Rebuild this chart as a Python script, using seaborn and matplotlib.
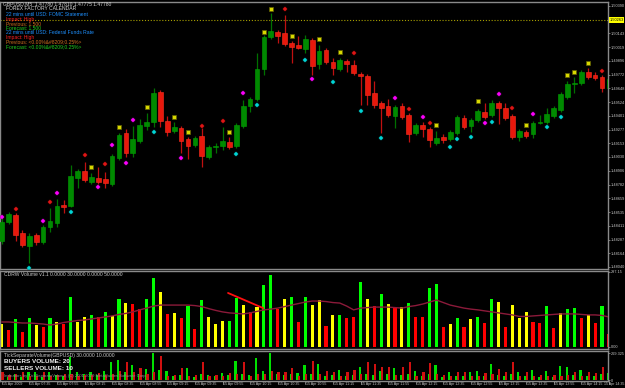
import numpy as np
import pandas as pd
import matplotlib
matplotlib.use("Agg")
import matplotlib.pyplot as plt
import seaborn as sns

sns.set_style("dark")
plt.rcParams['font.family'] = ['Liberation Sans', 'DejaVu Sans']
plt.rcParams['patch.force_edgecolor'] = False

# ---------------- data ----------------
open_ = [1.48274, 1.48445, 1.48508, 1.48346, 1.48229, 1.48328, 1.48265, 1.48400, 1.48436, 1.48598,
         1.48589, 1.48841, 1.48904, 1.48805, 1.48841, 1.48832, 1.48787, 1.49021, 1.49246, 1.49066,
         1.49174, 1.49309, 1.49345, 1.49615, 1.49354, 1.49264, 1.49291, 1.49192, 1.49138, 1.49219,
         1.49030, 1.49120, 1.49129, 1.49165, 1.49129, 1.49309, 1.49489, 1.49552, 1.49822, 1.50110,
         1.50155, 1.50146, 1.50056, 1.50038, 1.50002, 1.50083, 1.49867, 1.49993, 1.49885, 1.49822,
         1.49894, 1.49858, 1.49777, 1.49759, 1.49606, 1.49516, 1.49489, 1.49399, 1.49489, 1.49408,
         1.49246, 1.49318, 1.49282, 1.49156, 1.49210, 1.49192, 1.49246, 1.49381, 1.49309, 1.49363,
         1.49435, 1.49408, 1.49516, 1.49471, 1.49399, 1.49210, 1.49255, 1.49237, 1.49336, 1.49345,
         1.49399, 1.49453, 1.49570, 1.49687, 1.49696, 1.49795, 1.49768, 1.49750, 1.49651]
close = [1.48445, 1.48517, 1.48328, 1.48238, 1.48319, 1.48265, 1.48400, 1.48454, 1.48589, 1.48580,
         1.48859, 1.48904, 1.48823, 1.48850, 1.48805, 1.48796, 1.49039, 1.49228, 1.49066, 1.49192,
         1.49318, 1.49345, 1.49606, 1.49354, 1.49255, 1.49300, 1.49174, 1.49129, 1.49201, 1.49039,
         1.49120, 1.49129, 1.49174, 1.49120, 1.49318, 1.49489, 1.49552, 1.49822, 1.50110, 1.50164,
         1.50119, 1.50047, 1.50020, 1.50011, 1.50092, 1.49849, 1.49984, 1.49885, 1.49831, 1.49903,
         1.49867, 1.49786, 1.49759, 1.49588, 1.49498, 1.49471, 1.49408, 1.49480, 1.49390, 1.49237,
         1.49318, 1.49282, 1.49183, 1.49201, 1.49183, 1.49255, 1.49390, 1.49300, 1.49363, 1.49444,
         1.49390, 1.49516, 1.49471, 1.49381, 1.49210, 1.49264, 1.49219, 1.49336, 1.49345, 1.49417,
         1.49471, 1.49597, 1.49687, 1.49696, 1.49795, 1.49750, 1.49741, 1.49651, 1.49732]
high = [1.48481, 1.48535, 1.48526, 1.48373, 1.48346, 1.48346, 1.48418, 1.48571, 1.48652, 1.48643,
        1.48958, 1.48922, 1.48985, 1.48886, 1.48940, 1.48895, 1.49057, 1.49246, 1.49282, 1.49309,
        1.49372, 1.49426, 1.49651, 1.49633, 1.49399, 1.49345, 1.49309, 1.49210, 1.49219, 1.49291,
        1.49138, 1.49156, 1.49300, 1.49210, 1.49336, 1.49543, 1.49570, 1.49966, 1.50128, 1.50326,
        1.50173, 1.50308, 1.50074, 1.50119, 1.50128, 1.50101, 1.50038, 1.50011, 1.49921, 1.49921,
        1.49912, 1.49903, 1.49795, 1.49777, 1.49714, 1.49534, 1.49552, 1.49498, 1.49516, 1.49426,
        1.49336, 1.49345, 1.49300, 1.49264, 1.49237, 1.49273, 1.49408, 1.49408, 1.49381, 1.49462,
        1.49516, 1.49543, 1.49534, 1.49516, 1.49417, 1.49282, 1.49273, 1.49354, 1.49408, 1.49471,
        1.49489, 1.49615, 1.49714, 1.49750, 1.49813, 1.49831, 1.49795, 1.49768, 1.49750]
low = [1.48247, 1.48427, 1.48274, 1.48220, 1.48076, 1.48238, 1.48247, 1.48355, 1.48400, 1.48526,
       1.48580, 1.48751, 1.48805, 1.48787, 1.48787, 1.48751, 1.48769, 1.49003, 1.49030, 1.49030,
       1.49156, 1.49273, 1.49300, 1.49300, 1.49219, 1.49246, 1.49066, 1.49012, 1.49120, 1.48940,
       1.49012, 1.49066, 1.49093, 1.49102, 1.49111, 1.49291, 1.49435, 1.49534, 1.49768, 1.50092,
       1.50056, 1.50029, 1.49876, 1.50002, 1.49966, 1.49768, 1.49822, 1.49867, 1.49768, 1.49804,
       1.49795, 1.49768, 1.49498, 1.49498, 1.49471, 1.49246, 1.49390, 1.49291, 1.49372, 1.49165,
       1.49228, 1.49210, 1.49120, 1.49138, 1.49156, 1.49174, 1.49228, 1.49282, 1.49255, 1.49345,
       1.49372, 1.49390, 1.49327, 1.49363, 1.49192, 1.49174, 1.49201, 1.49201, 1.49327, 1.49327,
       1.49381, 1.49435, 1.49552, 1.49606, 1.49678, 1.49732, 1.49723, 1.49615, 1.49633]

red_sig_bar = [2, 7, 12, 15, 29, 32, 41, 51, 59, 62, 74, 87]
red_sig_px = [1.48562, 1.48625, 1.49048, 1.48967, 1.49309, 1.49354, 1.50362, 1.49966, 1.49462, 1.49336, 1.49471, 1.49804]
yel_sig_bar = [13, 17, 21, 25, 27, 33, 38, 39, 42, 46, 49, 63, 69, 76, 82, 83, 85]
yel_sig_px = [1.48940, 1.49300, 1.49480, 1.49390, 1.49255, 1.49255, 1.50155, 1.50362, 1.50119, 1.50092, 1.49975,
              1.49318, 1.49534, 1.49318, 1.49768, 1.49795, 1.49876]
mag_sig_bar = [0, 6, 8, 14, 16, 18, 19, 26, 35, 45, 57, 61, 70, 72, 77]
mag_sig_px = [1.48490, 1.48454, 1.48706, 1.48760, 1.49138, 1.48976, 1.49363, 1.49021, 1.49606, 1.49732, 1.49561,
              1.49390, 1.49336, 1.49597, 1.49417]
cyan_sig_bar = [4, 10, 22, 34, 37, 44, 48, 52, 55, 65, 66, 68, 71, 79, 81]
cyan_sig_px = [1.48031, 1.48535, 1.49255, 1.49057, 1.49498, 1.49903, 1.49705, 1.49444, 1.49201, 1.49120, 1.49192,
               1.49210, 1.49345, 1.49300, 1.49390]

current_price = 1.50263
price_ticks = [1.48040, 1.48164, 1.48287, 1.48411, 1.48535, 1.48659, 1.48782, 1.48906, 1.49030, 1.49153,
               1.49277, 1.49401, 1.49524, 1.49648, 1.49772, 1.49896, 1.50019, 1.50143, 1.50390]

volume = [91, 67, 111, 59, 115, 87, 79, 115, 99, 91, 198, 99, 119, 127, 119, 139, 123, 190, 174, 170,
          150, 190, 273, 218, 131, 135, 115, 162, 71, 186, 119, 91, 103, 103, 194, 166, 139, 158, 246, 285,
          150, 190, 198, 99, 198, 166, 186, 83, 127, 127, 115, 119, 257, 190, 162, 210, 170, 158, 158, 174,
          119, 119, 234, 249, 79, 91, 115, 79, 111, 119, 95, 190, 178, 79, 166, 115, 139, 99, 95, 162,
          75, 135, 150, 154, 115, 127, 95, 162, 51]
vol_class = list("YRGRGYRGYRGYYGRGYGYRRGGYRYRGRGYYYGGYRYGGRYGRGYYRYGRRGYRGYRYGRRGGRYGRYGRGYRYYYRRGRYGGRYRGR")
volume_ma = [99, 99, 97, 95, 95, 93, 91, 87, 91, 97, 101, 105, 107, 111, 115, 119, 123, 129, 133, 139,
             147, 154, 162, 166, 166, 166, 166, 166, 164, 160, 152, 145, 139, 135, 133, 131, 135, 141, 147, 150,
             154, 160, 166, 172, 178, 182, 182, 180, 176, 174, 162, 147, 154, 156, 158, 158, 158, 156, 154, 160,
             164, 170, 178, 186, 176, 166, 160, 154, 150, 147, 143, 139, 135, 131, 127, 121, 121, 123, 125, 127,
             129, 131, 131, 131, 129, 127, 127, 125, 119]
trend_bar = [32.8, 37.9]
trend_val = [214, 154]

buyers = [40, 30, 60, 30, 83, 77, 30, 77, 50, 40, 233, 77, 60, 77, 50, 90, 183, 200, 80, 150,
          60, 110, 270, 100, 90, 40, 50, 117, 30, 60, 50, 40, 67, 50, 193, 60, 50, 217, 90, 270,
          60, 50, 60, 67, 150, 60, 160, 40, 50, 100, 40, 50, 133, 60, 50, 90, 60, 117, 50, 60,
          90, 40, 60, 150, 30, 77, 40, 40, 77, 90, 40, 160, 50, 40, 60, 77, 40, 100, 30, 90,
          30, 140, 133, 50, 100, 40, 40, 60, 67]
sellers = [80, 50, 60, 80, 40, 40, 83, 40, 50, 60, 60, 40, 50, 50, 70, 50, 60, 90, 180, 80,
           117, 60, 80, 240, 40, 50, 117, 40, 50, 183, 40, 50, 40, 67, 60, 183, 40, 60, 60, 90,
           83, 83, 117, 40, 60, 190, 60, 90, 83, 40, 83, 100, 60, 183, 160, 133, 133, 50, 133, 183,
           40, 83, 170, 60, 50, 40, 83, 77, 40, 40, 67, 60, 110, 83, 183, 40, 83, 40, 50, 40,
           50, 40, 50, 83, 40, 83, 67, 133, 30]

time_labels = ["15 Apr 2009", "15 Apr 07:35", "15 Apr 07:55", "15 Apr 08:15", "15 Apr 08:35", "15 Apr 08:55",
               "15 Apr 09:15", "15 Apr 09:35", "15 Apr 09:55", "15 Apr 10:15", "15 Apr 10:35", "15 Apr 10:55",
               "15 Apr 11:15", "15 Apr 11:35", "15 Apr 11:55", "15 Apr 12:15", "15 Apr 12:35", "15 Apr 12:55",
               "15 Apr 13:15", "15 Apr 13:35", "15 Apr 13:55", "15 Apr 14:15", "15 Apr 14:35"]
time_label_bars = list(range(0, 89, 4))

# ---------------- figure ----------------
W, H = 625, 388
fig = plt.figure(figsize=(W / 100, H / 100), dpi=100, facecolor='black')

def fax(x0, y0, x1, y1):
    return fig.add_axes([x0 / W, 1 - y1 / H, (x1 - x0) / W, (y1 - y0) / H])

ax1 = fax(0, 2, 608, 269)
ax2 = fax(0, 271, 608, 349)
ax3 = fax(0, 351, 608, 381)

GRAY = '#8a8a8a'
TXT = '#c8c8c8'
FS = 3.6
AXFS = 2.75
TFS = 2.6
xlim = (-0.25, 87.87)
for ax in (ax1, ax2, ax3):
    ax.set_facecolor('black')
    for s in ax.spines.values():
        s.set_color(GRAY)
        s.set_linewidth(1.0)
        s.set_visible(True)
    ax.grid(False)

bars = np.arange(len(open_))
o = np.array(open_); c = np.array(close)
up = c >= o
body_col = np.where(up, '#008a00', '#e8180c')
wick_col = np.where(up, '#007000', '#c01010')

# main price panel
ax1.vlines(bars, low, high, colors=wick_col, lw=0.9, zorder=2)
body_h = np.maximum(np.abs(c - o), 0.00004)
ax1.bar(bars, body_h, bottom=np.minimum(o, c), width=0.68, color=body_col,
        edgecolor=np.where(up, '#00a000', '#ff3020'), linewidth=0.4, zorder=3)
ax1.axhline(current_price, color='#a8a000', ls=(0, (1, 1.6)), lw=0.8, zorder=1)

sns.scatterplot(x=red_sig_bar, y=red_sig_px, marker='P', s=9, color='#e01818', edgecolor='#700000',
                linewidth=0.3, ax=ax1, zorder=5)
sns.scatterplot(x=yel_sig_bar, y=yel_sig_px, marker='s', s=6, color='#d8d800', edgecolor='#606000',
                linewidth=0.5, ax=ax1, zorder=5)
sns.scatterplot(x=mag_sig_bar, y=mag_sig_px, marker='P', s=9, color='#ff00ff', edgecolor='#800080',
                linewidth=0.3, ax=ax1, zorder=5)
sns.scatterplot(x=cyan_sig_bar, y=cyan_sig_px, marker='P', s=9, color='#00d8d8', edgecolor='#006060',
                linewidth=0.3, ax=ax1, zorder=5)

ax1.set_ylim(1.48022, 1.50425)
ax1.set_yticks(price_ticks)
ax1.set_yticklabels([f"{v:.5f}" for v in price_ticks])

# current price tag
fig.text(609.5 / W, 1 - 20 / H, f"{current_price:.5f}", fontsize=AXFS, color='black', va='center', ha='left',
         bbox=dict(boxstyle='square,pad=0.2', facecolor='#ffff00', edgecolor='none'))

# header texts
hdr = [
    (3, 3.5, "GBPUSD,M5  1.47780 1.47810 1.47775 1.47780", '#d0d0d0'),
    (6, 9, "FOREX FACTORY CALENDAR", '#d8d8d8'),
    (6, 15, "22 mins until USD: FOMC Statement", '#1e90ff'),
    (6, 20, "Impact: High", '#ff2020'),
    (6, 24.5, "Previous: 1.500", '#d07020'),
    (6, 29, "Forecast: 1.500", '#20d020'),
    (6, 32.5, "22 mins until USD: Federal Funds Rate", '#1e90ff'),
    (6, 37, "Impact: High", '#ff2020'),
    (6, 42, "Previous: <0.00%&#8209;0.25%>", '#d07020'),
    (6, 47, "Forecast: <0.00%&#8209;0.25%>", '#20d020'),
]
for x, y, t, col in hdr:
    fig.text(x / W, 1 - y / H, t, fontsize=FS, color=col, va='center', ha='left')

# volume panel
vdf = pd.DataFrame({'bar': bars, 'vol': volume, 'cls': vol_class})
sns.barplot(data=vdf, x='bar', y='vol', hue='cls', native_scale=True, dodge=False,
            palette={'G': '#00ff00', 'Y': '#ffff00', 'R': '#ff0000'}, saturation=1,
            width=0.45, legend=False, ax=ax2, zorder=2, linewidth=0, edgecolor='none')
sns.lineplot(x=bars, y=volume_ma, color='#8b1a3a', lw=1.0, ax=ax2, zorder=3)
ax2.plot(trend_bar, trend_val, color='#ff1010', lw=1.3, zorder=4)
ax2.set_ylim(-8, 301)
ax2.set_yticks([0, 297.15])
ax2.set_yticklabels(["0.00", "297.15"])
fig.text(4 / W, 1 - 275 / H, "CDRW Volume v1.1 0.0000 30.0000 0.0000 50.0000", fontsize=FS,
         color=TXT, va='center', ha='left')

# tick separate volume panel
ax3.bar(bars - 0.12, buyers, width=0.32, color='#00e000', linewidth=0, edgecolor='none', zorder=2)
ax3.bar(bars + 0.12, sellers, width=0.32, color='#d01010', linewidth=0, edgecolor='none', zorder=2)
ax3.set_ylim(-10, 290)
ax3.set_yticks([0, 269.325])
ax3.set_yticklabels(["0", "269.325"])
fig.text(4 / W, 1 - 355 / H, "TickSeparateVolume(GBPUSD) 30.0000 10.0000", fontsize=FS,
         color=TXT, va='center', ha='left')
fig.text(4 / W, 1 - 361.5 / H, "BUYERS VOLUME: 20", fontsize=4.6, fontweight='bold',
         color='#f0f0f0', va='center', ha='left')
fig.text(4 / W, 1 - 368 / H, "SELLERS VOLUME: 10", fontsize=4.6, fontweight='bold',
         color='#f0f0f0', va='center', ha='left')
fig.text(4 / W, 1 - 376 / H, "Indicators by TickSeparateVolume, (C) 2001-2009 MetaQuotes Software Corp.",
         fontsize=3.0, color='#909090', va='center', ha='left')

for ax in (ax1, ax2, ax3):
    ax.set_xlim(*xlim)
    ax.set_xlabel('')
    ax.set_ylabel('')
    ax.yaxis.tick_right()
    ax.tick_params(axis='y', colors=GRAY, labelcolor=TXT, labelsize=AXFS, length=1.5, width=0.6, pad=0.6)
    ax.tick_params(axis='x', bottom=False, labelbottom=False)

# time axis
for b, t in zip(time_label_bars, time_labels):
    xp = (b - xlim[0]) / (xlim[1] - xlim[0]) * 608
    if xp + 24 > W:
        fig.text((W - 0.3) / W, 1 - 384.5 / H, t, fontsize=TFS, color=TXT, va='center', ha='right')
    else:
        fig.text((xp + 0.8) / W, 1 - 384.5 / H, t, fontsize=TFS, color=TXT, va='center', ha='left')
    fig.add_artist(plt.Line2D([xp / W, xp / W], [1 - 381 / H, 1 - 384 / H], color=GRAY, lw=0.6))

fig.savefig("out.png", dpi=100, facecolor='black')
